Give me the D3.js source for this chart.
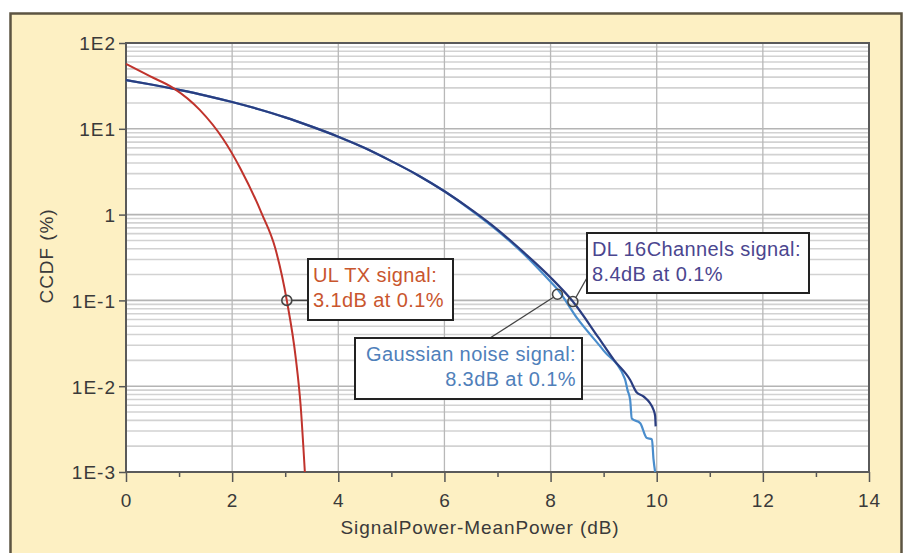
<!DOCTYPE html>
<html><head><meta charset="utf-8">
<script src="https://cdn.jsdelivr.net/npm/d3@7"></script>
<style>
body{margin:0;background:#fff;}
svg{display:block;font-family:"Liberation Sans",Arial,sans-serif;}
</style>
</head><body>
<svg id="c" width="909" height="553"></svg>
<script>
// ---- data ----
const ulX = [0, 0.45, 0.886, 1.39, 1.83, 2.15, 2.56, 2.81, 3.03, 3.2, 3.29, 3.37];
const ulY = [57, 41, 30, 16.6, 7.6, 3.5, 1.02, 0.41, 0.10, 0.021, 0.006, 0.001];

const dlX = [0, 0.5, 1.0, 1.5, 2.0, 2.5, 3.0, 3.5, 4.0, 4.5, 5.0, 5.5, 6.0, 6.5, 7.0, 7.5, 8.0, 8.42, 8.9, 9.2, 9.5, 9.62, 9.75, 9.94, 9.97, 9.98];
const dlY = [37, 32.6, 28.4, 24.4, 20.5, 16.9, 13.6, 10.6, 8.1, 5.97, 4.2, 2.88, 1.87, 1.15, 0.67, 0.36, 0.185, 0.097, 0.037, 0.02, 0.0118, 0.0085, 0.0076, 0.0053, 0.0045, 0.0034];

const gnX = [0, 0.5, 1.0, 1.5, 2.0, 2.5, 3.0, 3.5, 4.0, 4.5, 5.0, 5.5, 6.0, 6.5, 7.0, 7.5, 8.0, 8.13, 8.5, 9.0, 9.4, 9.45, 9.5, 9.53, 9.69, 9.81, 9.91, 9.94, 9.97];
const gnY = [37, 32.6, 28.4, 24.4, 20.5, 16.9, 13.6, 10.6, 8.1, 5.97, 4.2, 2.88, 1.87, 1.13, 0.65, 0.345, 0.165, 0.135, 0.062, 0.026, 0.0122, 0.009, 0.0069, 0.0042, 0.0037, 0.0025, 0.0024, 0.0014, 0.001];

const markerX = [3.03, 8.13, 8.42];
const markerY = [0.1, 0.118, 0.097];

const xTicks = [0, 2, 4, 6, 8, 10, 12, 14];
const xMinorTicks = [1, 3, 5, 7, 9, 11, 13];
const yTicks = [1e2, 1e1, 1, 1e-1, 1e-2, 1e-3];
const yTickLabels = ["1E2", "1E1", "1", "1E-1", "1E-2", "1E-3"];

const annUL = ["UL TX signal:", "3.1dB at 0.1%"];
const annDL = ["DL 16Channels signal:", "8.4dB at 0.1%"];
const annGN = ["Gaussian noise signal:", "8.3dB at 0.1%"];

// ---- drawing ----
const svg = d3.select("#c");
svg.append("rect").attr("x", 10.5).attr("y", 13.5).attr("width", 891).attr("height", 560)
  .attr("fill", "#fdf0c3").attr("stroke", "#5c5442").attr("stroke-width", 2.5);

const L = 126, R = 869, T = 43, B = 472;
const x = d3.scaleLinear().domain([0, 14]).range([L, R]);
const y = d3.scaleLog().domain([1e-3, 1e2]).range([B, T]);

svg.append("rect").attr("x", L).attr("y", T).attr("width", R - L).attr("height", B - T).attr("fill", "#fff");

// horizontal grid
const minor = [];
for (let e = -3; e < 2; e++) for (let m = 2; m <= 9; m++) minor.push(m * Math.pow(10, e));
svg.append("g").selectAll("line").data(minor).join("line")
  .attr("x1", L).attr("x2", R).attr("y1", d => y(d)).attr("y2", d => y(d))
  .attr("stroke", "#d2d2d2").attr("stroke-width", 1.6);
svg.append("g").selectAll("line").data(yTicks).join("line")
  .attr("x1", L).attr("x2", R).attr("y1", d => y(d)).attr("y2", d => y(d))
  .attr("stroke", "#b4b4b4").attr("stroke-width", 1.6);
// vertical grid
svg.append("g").selectAll("line").data(xTicks.slice(1, -1)).join("line")
  .attr("x1", d => x(d)).attr("x2", d => x(d)).attr("y1", T).attr("y2", B)
  .attr("stroke", "#b8b8b8").attr("stroke-width", 1.3);

// axes
const xAx = svg.append("g").attr("transform", `translate(0,${B})`)
  .call(d3.axisBottom(x).tickValues(xTicks).tickSize(10).tickFormat(d3.format("d")));
const xAxMinor = svg.append("g").attr("transform", `translate(0,${B})`)
  .call(d3.axisBottom(x).tickValues(xMinorTicks).tickSize(5).tickFormat(""));
const yAx = svg.append("g").attr("transform", `translate(${L},0)`)
  .call(d3.axisLeft(y).tickValues(yTicks).tickSize(7).tickFormat((d, i) => yTickLabels[i]));
[xAx, xAxMinor, yAx].forEach(g => {
  g.select(".domain").remove();
  g.selectAll(".tick line").attr("stroke", "#555").attr("stroke-width", 1.5);
  g.selectAll(".tick text").attr("fill", "#3a3a3a").attr("font-size", 19).attr("letter-spacing", 1);
});
xAx.selectAll(".tick text").attr("dy", "1.15em");
yAx.selectAll(".tick text").attr("x", -10).attr("dy", "0.36em");

// plot border
svg.append("rect").attr("x", L).attr("y", T).attr("width", R - L).attr("height", B - T)
  .attr("fill", "none").attr("stroke", "#5a5a5a").attr("stroke-width", 2);

// curves
const line = d3.line().x(d => x(d[0])).y(d => y(d[1])).curve(d3.curveMonotoneX);
const zip = (a, b) => a.map((v, i) => [v, b[i]]);
svg.append("path").datum(zip(gnX, gnY)).attr("d", line).attr("fill", "none")
  .attr("stroke", "#4a8dcc").attr("stroke-width", 2.2);
svg.append("path").datum(zip(dlX, dlY)).attr("d", line).attr("fill", "none")
  .attr("stroke", "#2a3d80").attr("stroke-width", 2.2);
svg.append("path").datum(zip(ulX, ulY)).attr("d", line).attr("fill", "none")
  .attr("stroke", "#c0332c").attr("stroke-width", 2);

// annotation boxes
function box(x0, y0, w, h, lines, color, anchor) {
  svg.append("rect").attr("x", x0).attr("y", y0).attr("width", w).attr("height", h)
    .attr("fill", "#fff").attr("stroke", "#222").attr("stroke-width", 2);
  const tx = anchor === "end" ? x0 + w - 6 : x0 + 5;
  lines.forEach((t, i) => svg.append("text").attr("x", tx).attr("y", y0 + 23 + i * 25)
    .attr("text-anchor", anchor).attr("fill", color).attr("font-size", 20)
    .attr("letter-spacing", 0.4).text(t));
}
// connectors
const mk = zip(markerX, markerY);
svg.append("line").attr("x1", x(mk[0][0]) + 5).attr("y1", y(mk[0][1])).attr("x2", 308).attr("y2", y(mk[0][1]))
  .attr("stroke", "#444").attr("stroke-width", 1.5);
svg.append("line").attr("x1", x(mk[1][0]) - 4).attr("y1", y(mk[1][1]) + 3).attr("x2", 490).attr("y2", 338)
  .attr("stroke", "#444").attr("stroke-width", 1.3);
svg.append("line").attr("x1", x(mk[2][0]) + 3).attr("y1", y(mk[2][1]) - 4).attr("x2", 588).attr("y2", 276)
  .attr("stroke", "#444").attr("stroke-width", 1.3);

box(308, 259, 145, 61, annUL, "#c9562e", "start");
box(587, 233, 222, 60, annDL, "#4b468f", "start");
box(355, 338, 227, 61, annGN, "#4f80ba", "end");

svg.append("g").selectAll("circle").data(mk).join("circle")
  .attr("cx", d => x(d[0])).attr("cy", d => y(d[1])).attr("r", 5)
  .attr("fill", "none").attr("stroke", "#444").attr("stroke-width", 1.6);

// axis titles
svg.append("text").attr("x", 480).attr("y", 534).attr("text-anchor", "middle")
  .attr("fill", "#3a3a3a").attr("font-size", 19).attr("letter-spacing", 0.9).text("SignalPower-MeanPower (dB)");
svg.append("text").attr("transform", "translate(53,256) rotate(-90)").attr("text-anchor", "middle")
  .attr("fill", "#3a3a3a").attr("font-size", 19).attr("letter-spacing", 0.9).text("CCDF (%)");
</script>
</body></html>
